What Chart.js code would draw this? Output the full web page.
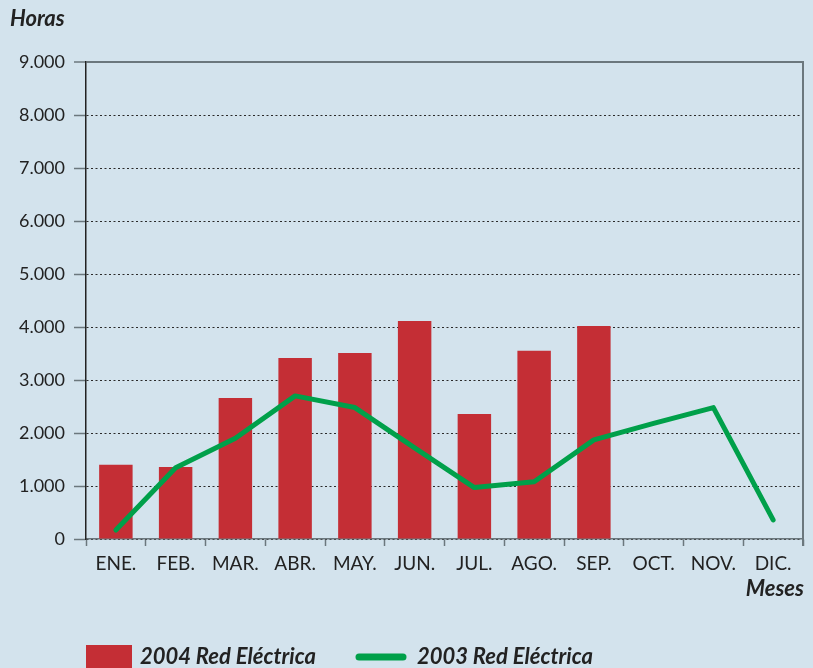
<!DOCTYPE html>
<html>
<head>
<meta charset="utf-8">
<script src="https://cdn.jsdelivr.net/npm/chart.js@4/dist/chart.umd.min.js"></script>
<style>
html,body{margin:0;padding:0;background:#d3e3ed;}
#wrap{width:813px;height:668px;position:relative;}
canvas{display:block;}
</style>
</head>
<body>
<div id="wrap"><canvas id="c" width="813" height="668"></canvas></div>
<script>
// ---- data ----
const meses = ['ENE.','FEB.','MAR.','ABR.','MAY.','JUN.','JUL.','AGO.','SEP.','OCT.','NOV.','DIC.'];
const red2004 = [1400, 1360, 2660, 3415, 3510, 4115, 2360, 3550, 4020, null, null, null];
const red2003 = [170, 1345, 1900, 2700, 2480, 1720, 970, 1080, 1870, 2180, 2480, 360];
const yTicks = [0, 1000, 2000, 3000, 4000, 5000, 6000, 7000, 8000, 9000];
const label2004 = '2004 Red Eléctrica';
const label2003 = '2003 Red Eléctrica';
const yTitle = 'Horas';
const xTitle = 'Meses';

// ---- style ----
const BG = '#d3e3ed';
const RED = '#c42e35';
const GREEN = '#00a04a';
const TXT = '#222222';
const GRAY = '#6b777d';
const FONT = "Lato, 'Open Sans', sans-serif";

function fmt(v){ return String(v).replace(/\B(?=(\d{3})+(?!\d))/g, '.'); }

const extras = {
  id: 'extras',
  beforeDraw(chart){
    const ctx = chart.ctx;
    ctx.save();
    ctx.fillStyle = BG;
    ctx.fillRect(0, 0, chart.width, chart.height);
    ctx.restore();
  },
  afterDraw(chart){
    const ctx = chart.ctx;
    const a = chart.chartArea;
    ctx.save();
    // right frame line
    ctx.strokeStyle = GRAY;
    ctx.lineWidth = 2;
    ctx.beginPath();
    ctx.moveTo(a.right, a.top - 1);
    ctx.lineTo(a.right, a.bottom + 7);
    ctx.stroke();
    // axis titles
    ctx.fillStyle = TXT;
    ctx.font = 'italic bold 22px ' + FONT;
    ctx.textBaseline = 'alphabetic';
    ctx.textAlign = 'left';
    ctx.fillText(yTitle, 10, 26);
    ctx.textAlign = 'right';
    ctx.fillText(xTitle, a.right + 1, 596);
    // legend
    const ds = chart.data.datasets;
    ctx.textAlign = 'left';
    ctx.font = 'italic bold 22px ' + FONT;
    ctx.fillStyle = RED;
    ctx.fillRect(86, 645, 46, 23);
    ctx.fillStyle = TXT;
    ctx.fillText(ds[1].label, 140, 664);
    ctx.strokeStyle = GREEN;
    ctx.lineWidth = 7;
    ctx.lineCap = 'round';
    ctx.beginPath();
    ctx.moveTo(359, 657);
    ctx.lineTo(403, 657);
    ctx.stroke();
    ctx.fillText(ds[0].label, 417, 664);
    ctx.restore();
  }
};

new Chart(document.getElementById('c'), {
  data: {
    labels: meses,
    datasets: [
      {
        type: 'line',
        label: label2003,
        data: red2003,
        borderColor: GREEN,
        backgroundColor: GREEN,
        borderWidth: 5,
        pointRadius: 0,
        tension: 0,
        borderJoinStyle: 'round',
        borderCapStyle: 'round',
        order: 0
      },
      {
        type: 'bar',
        label: label2004,
        data: red2004,
        backgroundColor: RED,
        borderWidth: 0,
        categoryPercentage: 1,
        barPercentage: 0.56,
        order: 1
      }
    ]
  },
  options: {
    responsive: false,
    devicePixelRatio: 1,
    animation: false,
    layout: { padding: { top: 62, right: 10, left: 0, bottom: 0 } },
    plugins: { legend: { display: false }, tooltip: { enabled: false } },
    scales: {
      x: {
        offset: true,
        grid: { offset: true, drawOnChartArea: false, tickColor: GRAY, tickLength: 7, tickWidth: 1.5 },
        border: { color: GRAY, width: 1.5 },
        ticks: { color: TXT, font: { family: FONT, size: 19 }, padding: 6, maxRotation: 0, autoSkip: false },
        afterFit: s => { s.height = 129; }
      },
      y: {
        min: 0,
        max: 9000,
        afterBuildTicks: s => { s.ticks = yTicks.map(v => ({ value: v })); },
        ticks: { color: TXT, font: { family: FONT, size: 18 }, padding: 9, callback: v => fmt(v) },
        grid: {
          color: c => (c.tick && c.tick.value === 9000) ? GRAY : '#2a2a2a',
          lineWidth: c => (c.tick && c.tick.value === 9000) ? 2 : 1,
          tickColor: GRAY,
          tickLength: 12,
          tickWidth: 1.5
        },
        border: {
          color: TXT,
          width: 1.5,
          dash: c => (c.tick && c.tick.value === 9000) ? [] : [2, 2.5]
        },
        afterFit: s => { s.width = 86; }
      }
    }
  },
  plugins: [extras]
});
</script>
</body>
</html>
